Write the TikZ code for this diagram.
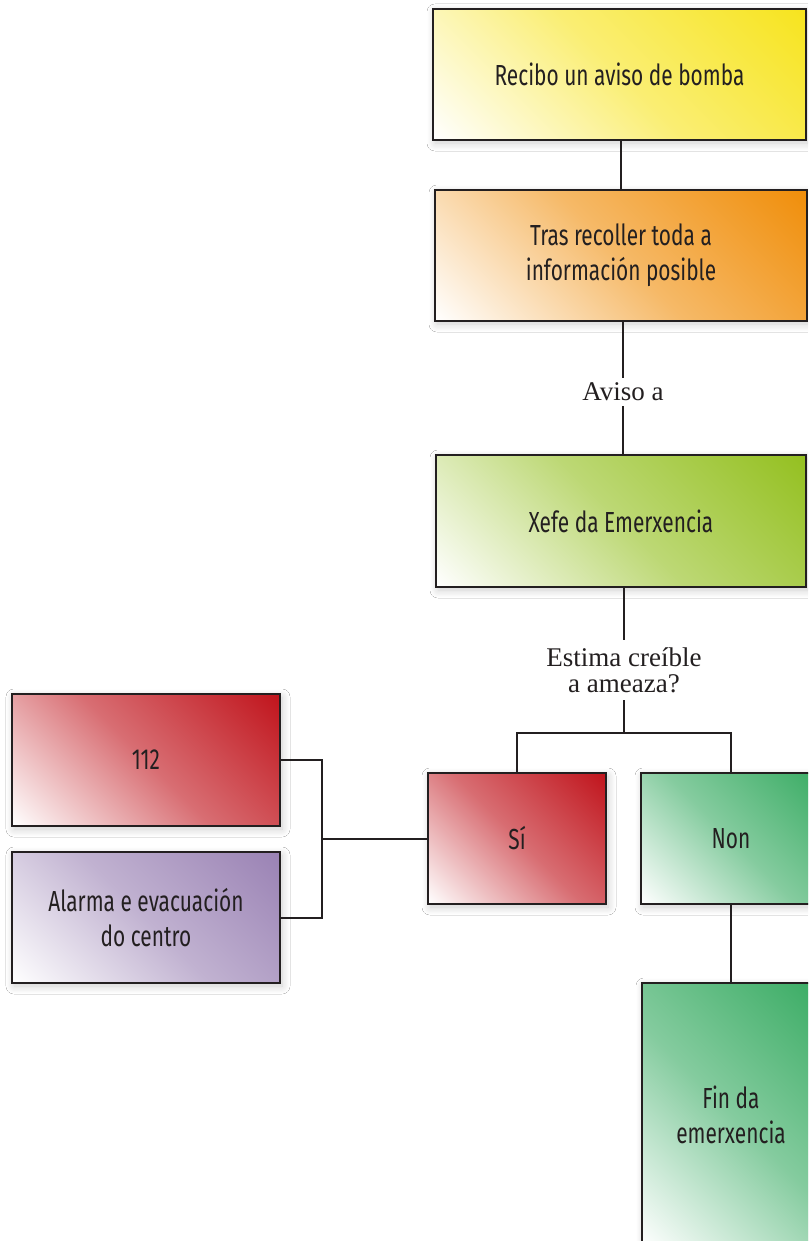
\documentclass[tikz,border=0pt]{standalone}
\usepackage{fontspec}
\setmainfont{Liberation Serif}
\newfontfamily\boxfont[FakeStretch=0.72]{Fira Sans}
\usetikzlibrary{shadows.blur}
\definecolor{linec}{HTML}{231F20}
\definecolor{cyellow}{RGB}{247,228,30}
\definecolor{corange}{RGB}{240,142,10}
\definecolor{clime}{RGB}{148,192,32}
\definecolor{cred}{RGB}{192,20,28}
\definecolor{cpurple}{RGB}{154,130,180}
\definecolor{cgreen}{RGB}{58,172,100}
\colorlet{boxcol}{cred}
\colorlet{boxmid}{cred!62!white}
\pgfdeclareverticalshading[boxcol,boxmid]{diagsh}{100bp}{color(0bp)=(white); color(14.6bp)=(white); color(50bp)=(boxmid); color(85.4bp)=(boxcol); color(100bp)=(boxcol)}
\tikzset{
  box/.style={draw=linec, line width=2pt, /utils/exec={\colorlet{boxcol}{#1}\colorlet{boxmid}{#1!62!white}}, shade, shading=diagsh,
    shading angle=-45, align=center, text=linec,
    font=\boxfont\fontsize{29pt}{35pt}\selectfont,
    blur shadow={shadow xshift=2pt, shadow yshift=-3pt, shadow blur radius=8pt, shadow opacity=20, shadow blur steps=12}},
  lbl/.style={font=\fontsize{27pt}{26pt}\selectfont, text=linec, align=center, inner sep=0pt},
  conn/.style={draw=linec, line width=2pt}
}
\begin{document}
\begin{tikzpicture}[x=1pt, y=-1pt]
\useasboundingbox (0,0) rectangle (808,1241);
\fill[white] (0,0) rectangle (808,1241);
\clip (0,0) rectangle (808,1241);
% boxes
\node[box=cyellow, minimum width=373pt, minimum height=131pt] (a1) at (619.5,74.5) {Recibo un aviso de bomba};
\node[box=corange, minimum width=372pt, minimum height=131pt] (a2) at (621,255.5) {Tras recoller toda a\\información posible};
\node[box=clime, minimum width=370pt, minimum height=132pt] (a3) at (621,521) {Xefe da Emerxencia};
\node[box=cred, minimum width=178pt, minimum height=131pt] (si) at (517,838.5) {Sí};
\node[box=cgreen, minimum width=180pt, minimum height=131pt] (non) at (731,838.5) {Non};
\node[box=cgreen, minimum width=178pt, minimum height=264pt] (fin) at (731,1115) {Fin da\\emerxencia};
\node[box=cred, minimum width=268pt, minimum height=132pt] (n112) at (146,760) {112};
\node[box=cpurple, minimum width=268pt, minimum height=131pt] (alarma) at (146,917.5) {Alarma e evacuación\\do centro};
% labels
\node[lbl, minimum height=28pt] (aviso) at (623,392) {Aviso a};
\node[lbl, minimum height=60pt] (q) at (624,670) {Estima creíble\\a ameaza?};
% junction coordinates
\coordinate (jq) at (624,733);
\coordinate (jsi) at (517,733);
\coordinate (jnon) at (731,733);
\coordinate (jl) at (322,838.5);
\coordinate (jl1) at (322,760);
\coordinate (jl2) at (322,917.5);
% connectors
\draw[conn] (a2.north |- a1.south) -- (a2.north);
\draw[conn] (a2.south -| aviso) -- (aviso.north);
\draw[conn] (aviso.south) -- (a3.north -| aviso);
\draw[conn] (a3.south -| q) -- (q.north);
\draw[conn] (q.south) -- (jq);
\draw[conn] (si.north) -- (jsi) -- (jnon) -- (non.north);
\draw[conn] (non.south) -- (fin.north);
\draw[conn] (si.west) -- (jl);
\draw[conn] (n112.east) -- (jl1) -- (jl2) -- (alarma.east);
\end{tikzpicture}
\end{document}
